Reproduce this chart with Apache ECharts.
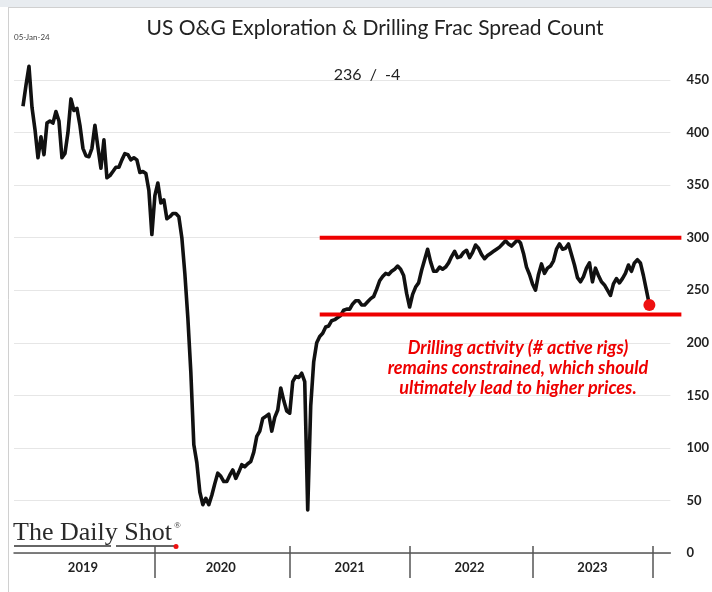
<!DOCTYPE html>
<html>
<head>
<meta charset="utf-8">
<script src="https://cdn.jsdelivr.net/npm/echarts@6/dist/echarts.min.js"></script>
<style>
  html, body { margin: 0; padding: 0; background: #fff; }
  #main { width: 712px; height: 592px; }
</style>
</head>
<body>
<div id="main"></div>
<script>
// weekly-ish samples, one array per year
const years = ['2019', '2020', '2021', '2022', '2023'];
const v2019 = [null, null, null, 425, 445, 463, 424, 403, 376, 396, 379, 409, 411, 409, 420, 411, 376, 380, 400, 432,
  421, 423, 407, 385, 378, 377, 385, 407, 386, 366, 393, 357, 359, 363, 367, 367, 374, 380, 379, 374,
  376, 374, 362, 363, 361, 345, 303];
const v2020 = [340, 352, 333, 336, 318, 320, 323, 323, 320, 300, 266, 224, 172, 103, 86, 58, 46, 52, 46, 55,
  66, 76, 73, 68, 68, 74, 79, 71, 77, 84, 82, 85, 87, 96, 111, 116, 128, 130, 132, 116,
  129, 136, 157, 145, 135];
const v2021 = [133, 163, 168, 167, 171, 163, 41, 140, 182, 200, 206, 209, 215, 216, 221, 222, 224, 226, 231, 232,
  232, 237, 240, 240, 236, 236, 239, 242, 244, 251, 259, 263, 266, 265, 268, 270, 273, 270, 264, 247];
const v2022 = [234, 246, 253, 257, 269, 279, 289, 277, 268, 268, 272, 270, 272, 276, 282, 287, 281, 282, 286, 288,
  281, 286, 293, 290, 284, 280, 283, 285, 287, 289, 291, 294, 297, 294, 292, 295, 298, 295, 285, 272, 265];
const v2023 = [256, 250, 265, 275, 266, 271, 273, 278, 289, 294, 289, 290, 294, 284, 274, 262, 258, 263, 271, 276,
  258, 271, 264, 258, 255, 250, 245, 256, 261, 257, 261, 266, 274, 268, 276, 279, 276, 264, 250, 236];
const padEnd = 7; // empty stub of 2024 at the right end

const lastValue = 236;
const weekChange = -4;
const rangeHigh = 300;
const rangeLow = 227;
const rangeFrom = 102; // sample where the red range lines start (early 2021)

const yearVals = [v2019, v2020, v2021, v2022, v2023];
const cats = [];
const vals = [];
const yearStart = [];
yearVals.forEach((arr, i) => {
  yearStart.push(cats.length);
  arr.forEach((v, j) => { cats.push(years[i] + '-' + j); vals.push(v); });
});
const endIdx = cats.length;
for (let j = 0; j < padEnd; j++) { cats.push('2024-' + j); vals.push(null); }
const dividers = yearStart.slice(1).concat([endIdx]);
const labelAt = yearVals.map((arr, i) => yearStart[i] + Math.floor(arr.length / 2));
const lastIdx = endIdx - 1;

const chart = echarts.init(document.getElementById('main'));

const baseX = {
  type: 'category',
  data: cats,
  boundaryGap: false,
  position: 'bottom'
};

chart.setOption({
  animation: false,
  backgroundColor: '#fff',
  grid: { left: 14, right: 40, top: 80, bottom: 39 },
  xAxis: [
    Object.assign({}, baseX, {
      axisLine: { lineStyle: { color: '#555', width: 1.5 } },
      axisTick: {
        interval: (i) => dividers.includes(i),
        length: 25,
        lineStyle: { color: '#555', width: 1.5 }
      },
      axisLabel: {
        interval: (i) => labelAt.includes(i),
        formatter: (v) => v.slice(0, 4),
        margin: 8,
        color: '#222',
        fontFamily: 'Lato',
        fontWeight: 'bold',
        fontSize: 13
      },
      splitLine: { show: false }
    }),
    Object.assign({}, baseX, {
      axisLine: { show: false },
      axisTick: {
        interval: (i) => dividers.includes(i),
        inside: true,
        length: 7,
        lineStyle: { color: '#555', width: 1.5 }
      },
      axisLabel: { show: false },
      splitLine: { show: false }
    })
  ],
  yAxis: {
    type: 'value',
    position: 'right',
    min: 0,
    max: 450,
    interval: 50,
    axisLine: { show: false },
    axisTick: { show: false },
    axisLabel: {
      margin: 16,
      color: '#222',
      fontFamily: 'Lato',
      fontWeight: 'bold',
      fontSize: 13
    },
    splitLine: { lineStyle: { color: '#e6e6e6', width: 1.2 } }
  },
  series: [
    {
      type: 'line',
      data: vals,
      showSymbol: false,
      connectNulls: false,
      clip: false,
      lineStyle: { color: '#111', width: 3.6, join: 'round' },
      z: 3
    },
    {
      type: 'scatter',
      data: [[lastIdx, lastValue]],
      symbolSize: 12,
      itemStyle: { color: '#ee1111', opacity: 1 },
      z: 5
    }
  ]
});

// red range lines + texts, placed from the axes
const pHi = chart.convertToPixel({ gridIndex: 0 }, [rangeFrom, rangeHigh]);
const pLo = chart.convertToPixel({ gridIndex: 0 }, [rangeFrom, rangeLow]);
const rightPx = chart.convertToPixel({ gridIndex: 0 }, [cats.length - 1, 0])[0] + 11;

chart.setOption({
  graphic: [
    { type: 'rect', shape: { x: 0, y: 0, width: 712, height: 7 }, style: { fill: '#e8ecf0' }, silent: true },
    { type: 'line', shape: { x1: 8, y1: 7.5, x2: 712, y2: 7.5 }, style: { stroke: '#d0d0d0', lineWidth: 1 }, silent: true },
    { type: 'line', shape: { x1: 8.5, y1: 7, x2: 8.5, y2: 592 }, style: { stroke: '#d0d0d0', lineWidth: 1 }, silent: true },
    {
      type: 'line', z: 10,
      shape: { x1: pHi[0], y1: pHi[1], x2: rightPx, y2: pHi[1] },
      style: { stroke: '#ee0000', lineWidth: 4 }
    },
    {
      type: 'line', z: 10,
      shape: { x1: pLo[0], y1: pLo[1], x2: rightPx, y2: pLo[1] },
      style: { stroke: '#ee0000', lineWidth: 4 }
    },
    {
      type: 'text', left: 14, top: 33,
      style: { text: '05-Jan-24', font: '8px Lato', fill: '#444' }
    },
    {
      type: 'text', x: 375, y: 28,
      style: {
        text: 'US O&G Exploration & Drilling Frac Spread Count',
        font: '21px Lato', fill: '#222', textAlign: 'center', textVerticalAlign: 'middle'
      }
    },
    {
      type: 'text', x: 367, y: 75,
      style: {
        text: lastValue + '  /  ' + weekChange,
        font: '16px Lato', fill: '#222', textAlign: 'center', textVerticalAlign: 'middle'
      }
    },
    {
      type: 'text', x: 518, y: 368,
      style: {
        text: 'Drilling activity (# active rigs)\nremains constrained, which should\nultimately lead to higher prices.',
        font: 'italic bold 18px Lato', fill: '#ee0000', lineHeight: 20,
        textAlign: 'center', textVerticalAlign: 'middle'
      }
    },
    {
      type: 'text', x: 13, y: 533,
      style: {
        text: 'The Daily Shot',
        font: '26px "Liberation Serif"', fill: '#2a2a2a', textVerticalAlign: 'middle'
      }
    },
    {
      type: 'text', x: 174, y: 526,
      style: { text: '®', font: '9px "Liberation Serif"', fill: '#333', textVerticalAlign: 'middle' }
    },
    { type: 'line', shape: { x1: 14, y1: 546, x2: 111, y2: 546 }, style: { stroke: '#333', lineWidth: 1.5 } },
    { type: 'line', shape: { x1: 116, y1: 546, x2: 174, y2: 546 }, style: { stroke: '#333', lineWidth: 1.5 } },
    { type: 'circle', shape: { cx: 176, cy: 546.5, r: 2.5 }, style: { fill: '#ee1111' } }
  ]
});
</script>
</body>
</html>
